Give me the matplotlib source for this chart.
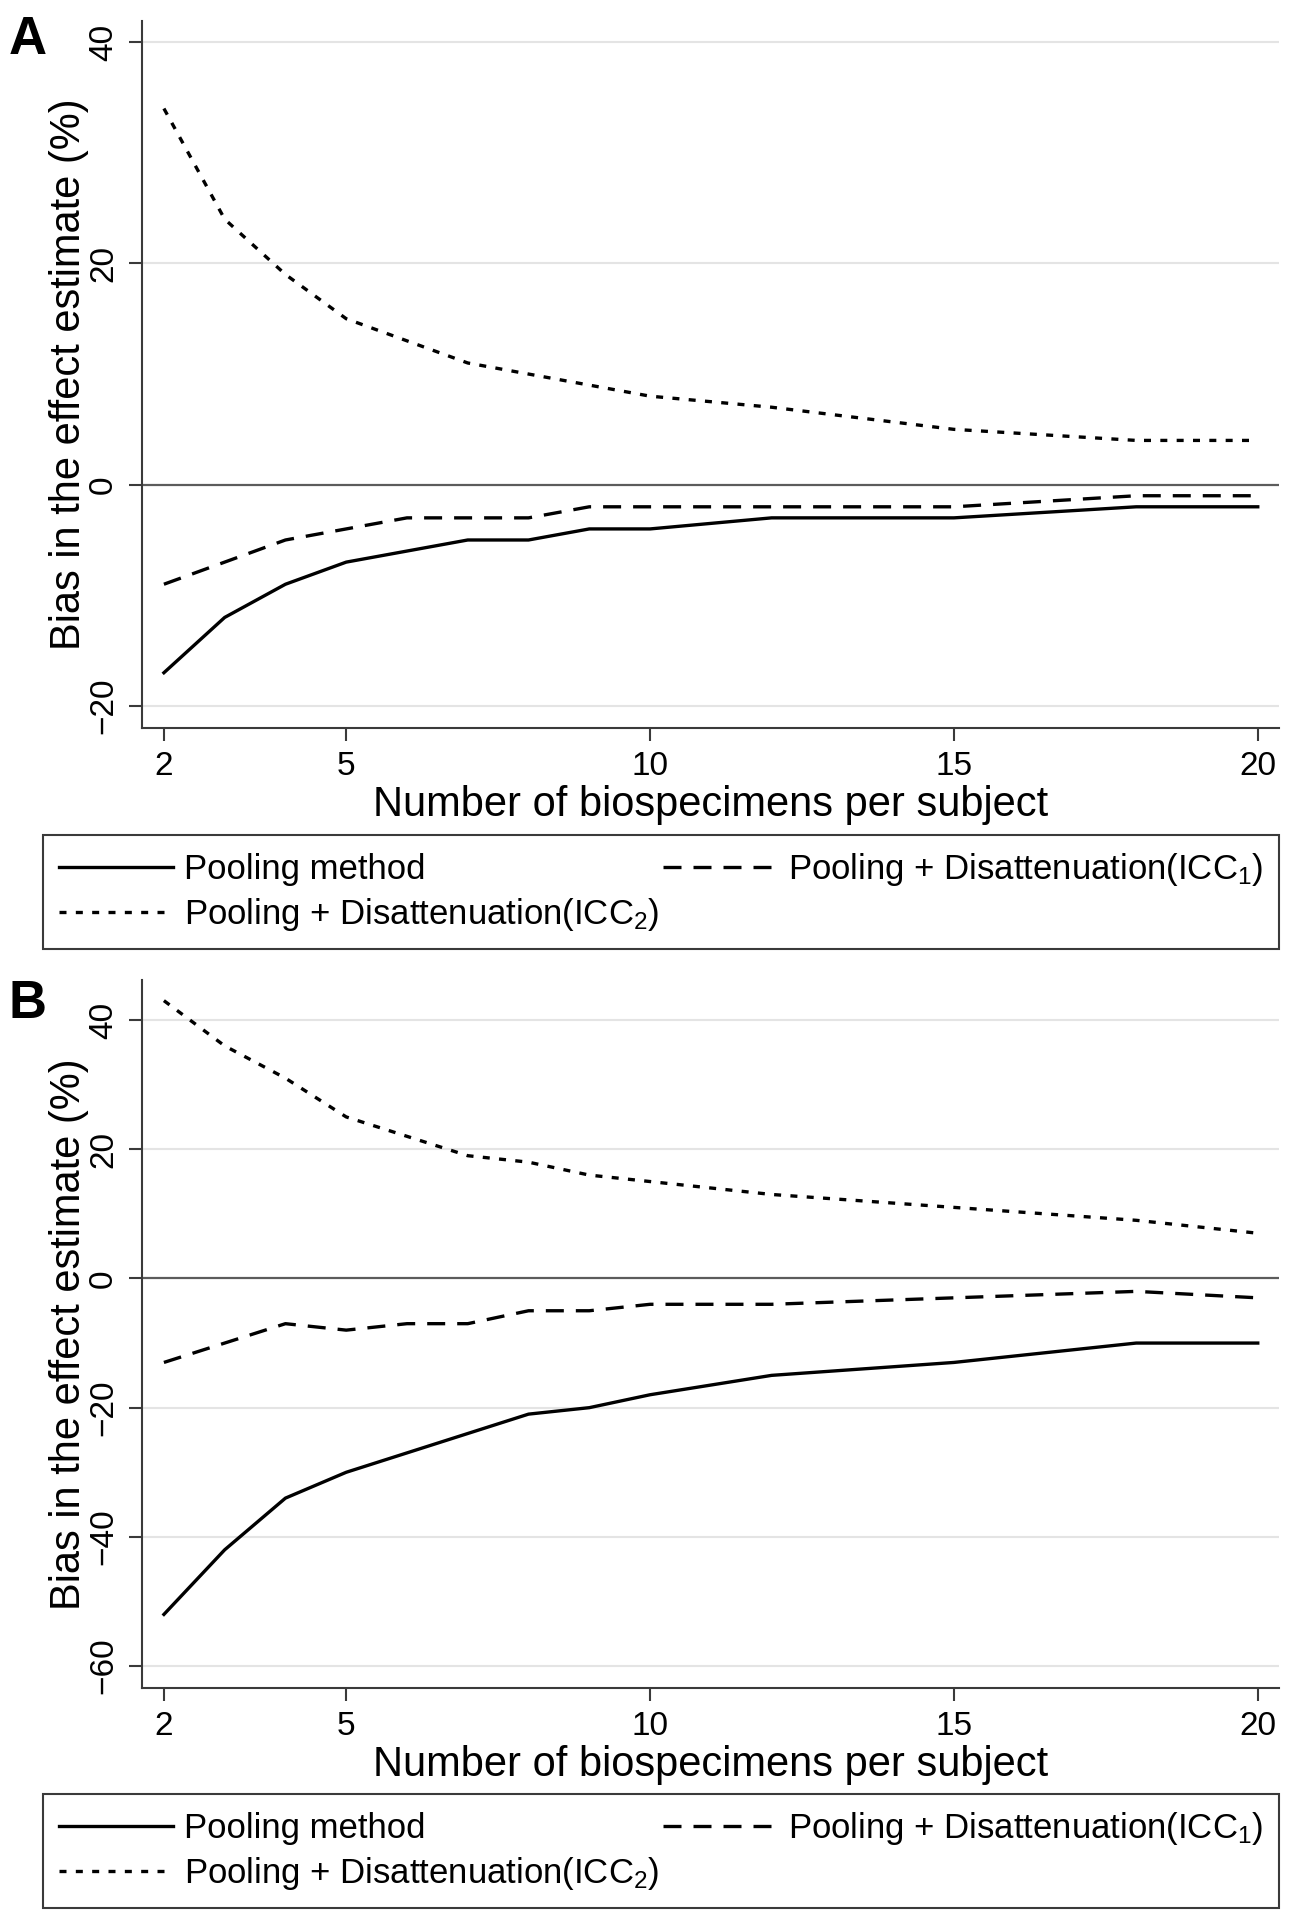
import matplotlib
matplotlib.use("Agg")
import matplotlib.pyplot as plt

plt.rcParams['font.family'] = ['Liberation Sans', 'DejaVu Sans']
plt.rcParams['mathtext.fontset'] = 'custom'
plt.rcParams['mathtext.rm'] = 'Liberation Sans'

# number of biospecimens per subject
n_specimens = [2, 3, 4, 5, 6, 7, 8, 9, 10, 12, 15, 18, 20]

# panel A: bias (%)
a_pooling = [-17, -12, -9, -7, -6, -5, -5, -4, -4, -3, -3, -2, -2]
a_icc1 = [-9, -7, -5, -4, -3, -3, -3, -2, -2, -2, -2, -1, -1]
a_icc2 = [34, 24, 19, 15, 13, 11, 10, 9, 8, 7, 5, 4, 4]

# panel B: bias (%)
b_pooling = [-52, -42, -34, -30, -27, -24, -21, -20, -18, -15, -13, -10, -10]
b_icc1 = [-13, -10, -7, -8, -7, -7, -5, -5, -4, -4, -3, -2, -3]
b_icc2 = [43, 36, 31, 25, 22, 19, 18, 16, 15, 13, 11, 9, 7]

x_ticks = [2, 5, 10, 15, 20]
a_yticks = [-20, 0, 20, 40]
b_yticks = [-60, -40, -20, 0, 20, 40]

labels = ['Pooling method',
          r'Pooling + Disattenuation(ICC$\mathregular{_1}$)',
          r'Pooling + Disattenuation(ICC$\mathregular{_2}$)']

LW = 2.4
styles = ['-', (0, (5.4, 3.6)), (0, (2.1, 2.8))]
SPINE = '#3a3a3a'


def draw_panel(fig, rect, ys, yticks, ylim, letter, letter_y, leg_rect):
    ax = fig.add_axes(rect)
    for y in yticks:
        if y != 0:
            ax.axhline(y, color='#e4e4e4', lw=1.5, zorder=0)
    ax.axhline(0, color='#5c5c5c', lw=1.6, zorder=1)
    handles = []
    for vals, ls, lab in zip(ys, styles, labels):
        h, = ax.plot(n_specimens, vals, color='black', lw=LW, linestyle=ls,
                     label=lab, zorder=2)
        handles.append(h)
    ax.set_xlim(1.64, 20.35)
    ax.set_ylim(*ylim)
    ax.set_xticks(x_ticks)
    ax.set_yticks(yticks)
    for s in ['top', 'right']:
        ax.spines[s].set_visible(False)
    for s in ['left', 'bottom']:
        ax.spines[s].set_color(SPINE)
        ax.spines[s].set_linewidth(1.5)
    ax.tick_params(axis='both', direction='out', length=9.5, width=1.5,
                   color=SPINE, labelsize=24, pad=7)
    for t in ax.get_yticklabels():
        t.set_rotation(90)
        t.set_va('center')
    ax.set_xlabel('Number of biospecimens per subject', fontsize=30, labelpad=2)
    ax.set_ylabel('Bias in the effect estimate (%)', fontsize=30)
    ax.yaxis.set_label_coords(-0.047, 0.5)
    # order handles so columns are: [solid, dotted] and [dashed]
    leg = fig.legend([handles[0], handles[2], handles[1]],
                     [labels[0], labels[2], labels[1]],
                     ncol=2, mode='expand', loc='center',
                     bbox_to_anchor=leg_rect, bbox_transform=fig.transFigure,
                     fontsize=25, frameon=True, fancybox=False,
                     edgecolor=SPINE, framealpha=1, handlelength=3.3,
                     handletextpad=0.3, borderpad=0.45, labelspacing=0.3,
                     borderaxespad=0.0, columnspacing=1.0)
    leg.get_frame().set_linewidth(1.5)
    fig.text(9 / 1290, letter_y, letter, fontsize=38, fontweight='bold',
             ha='left', va='baseline')
    return ax


fig = plt.figure(figsize=(12.9, 19.2), dpi=100)

draw_panel(fig, [0.1101, 0.6208, 0.8814, 0.3682],
           [a_pooling, a_icc1, a_icc2], a_yticks, (-22.0, 41.9),
           'A', 1 - 54 / 1920, (0.0333, 0.5057, 0.958, 0.0594))
draw_panel(fig, [0.1101, 0.1208, 0.8814, 0.3688],
           [b_pooling, b_icc1, b_icc2], b_yticks, (-63.4, 46.2),
           'B', 1 - 1018 / 1920, (0.0333, 0.00625, 0.958, 0.0594))

fig.savefig('out.png', dpi=100, facecolor='white')
